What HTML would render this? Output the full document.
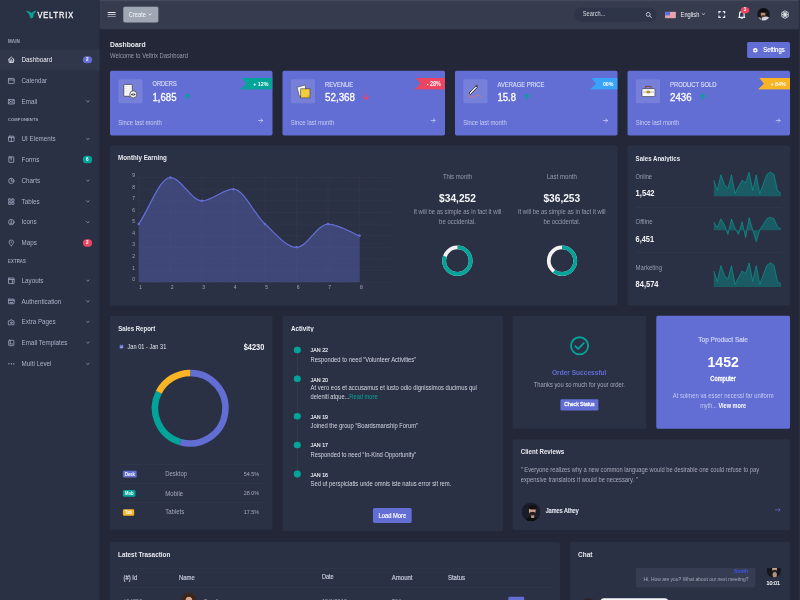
<!DOCTYPE html>
<html><head><meta charset="utf-8"><title>Veltrix Dashboard</title>
<style>
html,body{margin:0;padding:0;width:800px;height:600px;overflow:hidden;background:#232737;}
#s{position:absolute;left:0;top:0;width:1920px;height:1440px;transform:scale(0.4166667);transform-origin:0 0;overflow:hidden;font-family:"Liberation Sans",Arial,sans-serif;background:#232737;}
.a{position:absolute;box-sizing:border-box;}
.t{position:absolute;white-space:nowrap;}
.card{background:#2b3144;border-radius:4px;}
</style></head><body><div id="s">
<div class="a " style="left:0.00px;top:0.00px;width:238.80px;height:1440.00px;background:#2b3144;"></div>
<div class="a " style="left:236.64px;top:0.00px;width:2.40px;height:1440.00px;background:#272c3d;"></div>
<svg class="a" style="left:57.60px;top:19.20px;" width="38.40" height="28.80" viewBox="0 0 800 600"><path d="M100 140 Q200 120 330 235 L370 255 L410 235 Q500 130 605 135 Q560 230 470 320 L460 440 Q420 520 370 525 Q310 520 280 440 L260 330 Q150 230 100 140 Z" fill="#0aa596"/><circle cx="370" cy="410" r="24" fill="#1d6f6a"/><circle cx="430" cy="268" r="16" fill="#1d6f6a"/></svg>
<div class="t " style="left:89.76px;top:24.67px;font-size:17.75px;line-height:22.19px;color:#f4f5f8;font-weight:400;transform:scaleY(1.15);letter-spacing:2.2px;-webkit-text-stroke:0.7px #f4f5f8;">VELTRIX</div>
<div class="t " style="left:19.20px;top:93.58px;font-size:10.79px;line-height:13.49px;color:#a0a7bd;font-weight:700;transform:scaleY(1.05);letter-spacing:0.3px;">MAIN</div>
<div class="t " style="left:19.20px;top:282.38px;font-size:9.76px;line-height:12.20px;color:#a0a7bd;font-weight:700;transform:scaleY(1.05);letter-spacing:0.3px;">COMPONENTS</div>
<div class="t " style="left:19.20px;top:622.41px;font-size:10.22px;line-height:12.78px;color:#a0a7bd;font-weight:700;transform:scaleY(1.05);letter-spacing:0.3px;">EXTRAS</div>
<div class="a " style="left:0.00px;top:118.80px;width:238.80px;height:49.44px;background:#30374b;"></div>
<svg class="a" style="left:18.00px;top:134.40px;" width="18.24" height="18.24" viewBox="0 0 10 10"><path d="M1.3 5.2 L5 1.6 L8.7 5.2 M2.2 4.4 V8.6 H7.8 V4.4" fill="none" stroke="#e6e8ef" stroke-width="1.15" stroke-linecap="round" stroke-linejoin="round"/><path d="M4 8.6 V6.4 H6 V8.6" fill="none" stroke="#e6e8ef" stroke-width="1.15" stroke-linecap="round" stroke-linejoin="round"/><circle cx="5" cy="4.6" r="0.7" fill="#e6e8ef"/></svg>
<div class="t " style="left:51.84px;top:134.14px;font-size:15px;line-height:18.75px;color:#eef0f6;font-weight:400;transform:scaleY(1.15);">Dashboard</div>
<div class="a " style="left:198.72px;top:134.76px;width:21.84px;height:17.52px;background:#626ed4;border-radius:8.8px;"></div>
<div class="t " style="left:209.64px;top:136.88px;font-size:11px;line-height:13.75px;color:#fff;font-weight:700;transform:translateX(-50%) scaleY(1.1);">2</div>
<svg class="a" style="left:18.00px;top:184.56px;" width="18.24" height="18.24" viewBox="0 0 10 10"><rect x="1.2" y="1.8" width="7.6" height="6.8" rx="0.6" fill="none" stroke="#98a1bb" stroke-width="1.15" stroke-linecap="round" stroke-linejoin="round"/><path d="M1.2 3.8 H8.8" fill="none" stroke="#98a1bb" stroke-width="1.15" stroke-linecap="round" stroke-linejoin="round"/></svg>
<div class="t " style="left:51.84px;top:184.31px;font-size:15px;line-height:18.75px;color:#aab2cb;font-weight:400;transform:scaleY(1.15);">Calendar</div>
<svg class="a" style="left:18.00px;top:235.20px;" width="18.24" height="18.24" viewBox="0 0 10 10"><rect x="1.1" y="2.2" width="7.8" height="5.8" rx="0.5" fill="none" stroke="#98a1bb" stroke-width="1.15" stroke-linecap="round" stroke-linejoin="round"/><path d="M1.4 2.6 L5 5.4 L8.6 2.6 M1.4 7.6 L3.9 5 M8.6 7.6 L6.1 5" fill="none" stroke="#98a1bb" stroke-width="1.15" stroke-linecap="round" stroke-linejoin="round"/></svg>
<div class="t " style="left:51.84px;top:234.94px;font-size:15px;line-height:18.75px;color:#aab2cb;font-weight:400;transform:scaleY(1.15);">Email</div>
<svg class="a" style="left:206.40px;top:240.48px;" width="9.60" height="7.68" viewBox="0 0 10 8"><path d="M1.5 1.5 L5 5.5 L8.5 1.5" fill="none" stroke="#9aa2bb" stroke-width="1.7" stroke-linecap="round" stroke-linejoin="round"/></svg>
<svg class="a" style="left:18.00px;top:324.24px;" width="18.24" height="18.24" viewBox="0 0 10 10"><rect x="1.3" y="1.6" width="7.4" height="7" rx="1.2" fill="none" stroke="#98a1bb" stroke-width="1.15" stroke-linecap="round" stroke-linejoin="round"/><path d="M1.5 3.2 H8.5 M5 3.2 V8.5" fill="none" stroke="#98a1bb" stroke-width="1.15" stroke-linecap="round" stroke-linejoin="round"/></svg>
<div class="t " style="left:51.84px;top:323.99px;font-size:15px;line-height:18.75px;color:#aab2cb;font-weight:400;transform:scaleY(1.15);">UI Elements</div>
<svg class="a" style="left:206.40px;top:329.52px;" width="9.60" height="7.68" viewBox="0 0 10 8"><path d="M1.5 1.5 L5 5.5 L8.5 1.5" fill="none" stroke="#9aa2bb" stroke-width="1.7" stroke-linecap="round" stroke-linejoin="round"/></svg>
<svg class="a" style="left:18.00px;top:373.68px;" width="18.24" height="18.24" viewBox="0 0 10 10"><rect x="1.8" y="1.4" width="6.4" height="7.2" rx="0.4" fill="none" stroke="#98a1bb" stroke-width="1.15" stroke-linecap="round" stroke-linejoin="round"/><path d="M5 1.6 V5.6 M3.4 3 H4.2" fill="none" stroke="#98a1bb" stroke-width="1.15" stroke-linecap="round" stroke-linejoin="round"/></svg>
<div class="t " style="left:51.84px;top:373.43px;font-size:15px;line-height:18.75px;color:#aab2cb;font-weight:400;transform:scaleY(1.15);">Forms</div>
<div class="a " style="left:198.72px;top:374.04px;width:21.84px;height:17.52px;background:#02a499;border-radius:8.8px;"></div>
<div class="t " style="left:209.64px;top:376.16px;font-size:11px;line-height:13.75px;color:#fff;font-weight:700;transform:translateX(-50%) scaleY(1.1);">6</div>
<svg class="a" style="left:18.00px;top:425.04px;" width="18.24" height="18.24" viewBox="0 0 10 10"><circle cx="5" cy="5" r="3.5" fill="none" stroke="#98a1bb" stroke-width="1.15" stroke-linecap="round" stroke-linejoin="round"/><path d="M5 2.4 V5.3 H7.4" fill="none" stroke="#98a1bb" stroke-width="1.15" stroke-linecap="round" stroke-linejoin="round"/></svg>
<div class="t " style="left:51.84px;top:424.79px;font-size:15px;line-height:18.75px;color:#aab2cb;font-weight:400;transform:scaleY(1.15);">Charts</div>
<svg class="a" style="left:206.40px;top:430.32px;" width="9.60" height="7.68" viewBox="0 0 10 8"><path d="M1.5 1.5 L5 5.5 L8.5 1.5" fill="none" stroke="#9aa2bb" stroke-width="1.7" stroke-linecap="round" stroke-linejoin="round"/></svg>
<svg class="a" style="left:18.00px;top:474.72px;" width="18.24" height="18.24" viewBox="0 0 10 10"><rect x="1.4" y="1.4" width="3" height="3" rx="0.5" fill="none" stroke="#98a1bb" stroke-width="1.15" stroke-linecap="round" stroke-linejoin="round"/><rect x="5.6" y="1.4" width="3" height="3" rx="0.5" fill="none" stroke="#98a1bb" stroke-width="1.15" stroke-linecap="round" stroke-linejoin="round"/><rect x="1.4" y="5.6" width="3" height="3" rx="0.5" fill="none" stroke="#98a1bb" stroke-width="1.15" stroke-linecap="round" stroke-linejoin="round"/><rect x="5.6" y="5.6" width="3" height="3" rx="0.5" fill="none" stroke="#98a1bb" stroke-width="1.15" stroke-linecap="round" stroke-linejoin="round"/></svg>
<div class="t " style="left:51.84px;top:474.46px;font-size:15px;line-height:18.75px;color:#aab2cb;font-weight:400;transform:scaleY(1.15);">Tables</div>
<svg class="a" style="left:206.40px;top:480.00px;" width="9.60" height="7.68" viewBox="0 0 10 8"><path d="M1.5 1.5 L5 5.5 L8.5 1.5" fill="none" stroke="#9aa2bb" stroke-width="1.7" stroke-linecap="round" stroke-linejoin="round"/></svg>
<svg class="a" style="left:18.00px;top:524.40px;" width="18.24" height="18.24" viewBox="0 0 10 10"><circle cx="5" cy="5" r="3.6" fill="none" stroke="#98a1bb" stroke-width="1.15" stroke-linecap="round" stroke-linejoin="round"/><path d="M5 3 V5.6 M3.6 6.6 Q5 7.4 6.4 6.6" fill="none" stroke="#98a1bb" stroke-width="1.15" stroke-linecap="round" stroke-linejoin="round"/></svg>
<div class="t " style="left:51.84px;top:524.14px;font-size:15px;line-height:18.75px;color:#aab2cb;font-weight:400;transform:scaleY(1.15);">Icons</div>
<svg class="a" style="left:206.40px;top:529.68px;" width="9.60" height="7.68" viewBox="0 0 10 8"><path d="M1.5 1.5 L5 5.5 L8.5 1.5" fill="none" stroke="#9aa2bb" stroke-width="1.7" stroke-linecap="round" stroke-linejoin="round"/></svg>
<svg class="a" style="left:18.00px;top:573.84px;" width="18.24" height="18.24" viewBox="0 0 10 10"><path d="M5 8.8 C3 6.6 2.1 5.3 2.1 3.9 A2.9 2.9 0 0 1 7.9 3.9 C7.9 5.3 7 6.6 5 8.8 Z" fill="none" stroke="#98a1bb" stroke-width="1.15" stroke-linecap="round" stroke-linejoin="round"/><circle cx="5" cy="4" r="0.8" fill="#98a1bb"/></svg>
<div class="t " style="left:51.84px;top:573.59px;font-size:15px;line-height:18.75px;color:#aab2cb;font-weight:400;transform:scaleY(1.15);">Maps</div>
<div class="a " style="left:198.72px;top:574.20px;width:21.84px;height:17.52px;background:#ec4561;border-radius:8.8px;"></div>
<div class="t " style="left:209.64px;top:576.32px;font-size:11px;line-height:13.75px;color:#fff;font-weight:700;transform:translateX(-50%) scaleY(1.1);">2</div>
<svg class="a" style="left:18.00px;top:664.80px;" width="18.24" height="18.24" viewBox="0 0 10 10"><rect x="1.3" y="1.3" width="7.4" height="7.4" rx="0.6" fill="none" stroke="#98a1bb" stroke-width="1.15" stroke-linecap="round" stroke-linejoin="round"/><path d="M1.5 3.2 H8.5 M6.4 3.2 V8.5" fill="none" stroke="#98a1bb" stroke-width="1.15" stroke-linecap="round" stroke-linejoin="round"/></svg>
<div class="t " style="left:51.84px;top:664.54px;font-size:15px;line-height:18.75px;color:#aab2cb;font-weight:400;transform:scaleY(1.15);">Layouts</div>
<svg class="a" style="left:206.40px;top:670.08px;" width="9.60" height="7.68" viewBox="0 0 10 8"><path d="M1.5 1.5 L5 5.5 L8.5 1.5" fill="none" stroke="#9aa2bb" stroke-width="1.7" stroke-linecap="round" stroke-linejoin="round"/></svg>
<svg class="a" style="left:18.00px;top:714.24px;" width="18.24" height="18.24" viewBox="0 0 10 10"><rect x="1.2" y="2.2" width="7.6" height="6" rx="0.5" fill="none" stroke="#98a1bb" stroke-width="1.15" stroke-linecap="round" stroke-linejoin="round"/><path d="M1.4 3.9 H8.6 M3.3 6.6 H6.7" fill="none" stroke="#98a1bb" stroke-width="1.15" stroke-linecap="round" stroke-linejoin="round"/></svg>
<div class="t " style="left:51.84px;top:713.98px;font-size:15px;line-height:18.75px;color:#aab2cb;font-weight:400;transform:scaleY(1.15);">Authentication</div>
<svg class="a" style="left:206.40px;top:719.52px;" width="9.60" height="7.68" viewBox="0 0 10 8"><path d="M1.5 1.5 L5 5.5 L8.5 1.5" fill="none" stroke="#9aa2bb" stroke-width="1.7" stroke-linecap="round" stroke-linejoin="round"/></svg>
<svg class="a" style="left:18.00px;top:763.92px;" width="18.24" height="18.24" viewBox="0 0 10 10"><path d="M1.5 3.4 H3.2 L4 2 H6 L6.8 3.4 H8.5 V8.6 H1.5 Z" fill="none" stroke="#98a1bb" stroke-width="1.15" stroke-linecap="round" stroke-linejoin="round"/><circle cx="5" cy="5.8" r="1.1" fill="none" stroke="#98a1bb" stroke-width="1.15" stroke-linecap="round" stroke-linejoin="round"/></svg>
<div class="t " style="left:51.84px;top:763.67px;font-size:15px;line-height:18.75px;color:#aab2cb;font-weight:400;transform:scaleY(1.15);">Extra Pages</div>
<svg class="a" style="left:206.40px;top:769.20px;" width="9.60" height="7.68" viewBox="0 0 10 8"><path d="M1.5 1.5 L5 5.5 L8.5 1.5" fill="none" stroke="#9aa2bb" stroke-width="1.7" stroke-linecap="round" stroke-linejoin="round"/></svg>
<svg class="a" style="left:18.00px;top:814.08px;" width="18.24" height="18.24" viewBox="0 0 10 10"><rect x="1.6" y="1.4" width="6.8" height="7.2" rx="0.8" fill="none" stroke="#98a1bb" stroke-width="1.15" stroke-linecap="round" stroke-linejoin="round"/><path d="M3.6 1.6 V6 M3.4 6.3 H6.6" fill="none" stroke="#98a1bb" stroke-width="1.15" stroke-linecap="round" stroke-linejoin="round"/></svg>
<div class="t " style="left:51.84px;top:813.82px;font-size:15px;line-height:18.75px;color:#aab2cb;font-weight:400;transform:scaleY(1.15);">Email Templates</div>
<svg class="a" style="left:206.40px;top:819.36px;" width="9.60" height="7.68" viewBox="0 0 10 8"><path d="M1.5 1.5 L5 5.5 L8.5 1.5" fill="none" stroke="#9aa2bb" stroke-width="1.7" stroke-linecap="round" stroke-linejoin="round"/></svg>
<svg class="a" style="left:18.00px;top:864.48px;" width="18.24" height="18.24" viewBox="0 0 10 10"><circle cx="1.8" cy="5" r="0.9" fill="#98a1bb"/><circle cx="5" cy="5" r="0.9" fill="#98a1bb"/><circle cx="8.2" cy="5" r="0.9" fill="#98a1bb"/></svg>
<div class="t " style="left:51.84px;top:864.23px;font-size:15px;line-height:18.75px;color:#aab2cb;font-weight:400;transform:scaleY(1.15);">Multi Level</div>
<svg class="a" style="left:206.40px;top:869.76px;" width="9.60" height="7.68" viewBox="0 0 10 8"><path d="M1.5 1.5 L5 5.5 L8.5 1.5" fill="none" stroke="#9aa2bb" stroke-width="1.7" stroke-linecap="round" stroke-linejoin="round"/></svg>
<div class="a " style="left:238.80px;top:0.00px;width:1681.20px;height:70.08px;background:#373b4e;"></div>
<div class="a " style="left:238.80px;top:0.00px;width:1681.20px;height:2.88px;background:#45495b;"></div>
<div class="a " style="left:258.24px;top:28.92px;width:20.16px;height:1.68px;background:#e8eaf0;border-radius:1px;"></div>
<div class="a " style="left:258.24px;top:33.84px;width:20.16px;height:1.68px;background:#e8eaf0;border-radius:1px;"></div>
<div class="a " style="left:258.24px;top:38.76px;width:20.16px;height:1.68px;background:#e8eaf0;border-radius:1px;"></div>
<div class="a " style="left:295.68px;top:16.32px;width:84.00px;height:37.68px;background:#9ea7b3;border:1px solid #aab2bd;border-radius:4px;"></div>
<div class="t " style="left:309.12px;top:26.69px;font-size:13.75px;line-height:17.19px;color:#f6f7fa;font-weight:400;transform:scaleY(1.15);">Create</div>
<svg class="a" style="left:356.40px;top:31.78px;" width="8.16" height="6.53" viewBox="0 0 10 8"><path d="M1.5 1.5 L5 5.5 L8.5 1.5" fill="none" stroke="#f3f4f7" stroke-width="2.4" stroke-linecap="round" stroke-linejoin="round"/></svg>
<div class="a " style="left:1378.08px;top:17.76px;width:198.24px;height:35.52px;background:#2f3548;border-radius:18px;"></div>
<div class="t " style="left:1398.72px;top:27.09px;font-size:13.49px;line-height:16.86px;color:#d9dce6;font-weight:400;transform:scaleY(1.15);">Search...</div>
<svg class="a" style="left:1548.96px;top:27.84px;" width="15.84" height="15.84" viewBox="0 0 10 10"><circle cx="4.2" cy="4.2" r="3" fill="none" stroke="#c9ccd6" stroke-width="1.4"/><path d="M6.4 6.4 L9 9" stroke="#c9ccd6" stroke-width="1.5" stroke-linecap="round"/></svg>
<svg class="a" style="left:1596.00px;top:27.84px;" width="26.40" height="16.32" viewBox="0 0 22 14"><rect width="22" height="14" fill="#f2f2f6"/><rect y="0" width="22" height="1.1" fill="#e0576d"/><rect y="2" width="22" height="1.1" fill="#e0576d"/><rect y="4" width="22" height="1.1" fill="#e0576d"/><rect y="6" width="22" height="1.1" fill="#e0576d"/><rect y="8" width="22" height="1.1" fill="#e0576d"/><rect y="10" width="22" height="1.1" fill="#e0576d"/><rect y="12" width="22" height="1.1" fill="#e0576d"/><rect width="10" height="7.6" fill="#5b6fd6"/></svg>
<div class="t " style="left:1633.44px;top:26.92px;font-size:13.76px;line-height:17.20px;color:#eceef3;font-weight:400;transform:scaleY(1.15);">English</div>
<svg class="a" style="left:1684.32px;top:31.34px;" width="8.64" height="6.91" viewBox="0 0 10 8"><path d="M1.5 1.5 L5 5.5 L8.5 1.5" fill="none" stroke="#d5d8e0" stroke-width="2.0" stroke-linecap="round" stroke-linejoin="round"/></svg>
<svg class="a" style="left:1723.20px;top:26.40px;" width="18.72" height="17.28" viewBox="0 0 10 10"><path d="M1 3.6 V1 H3.6 M6.4 1 H9 V3.6 M9 6.4 V9 H6.4 M3.6 9 H1 V6.4" fill="none" stroke="#eceef3" stroke-width="1.6"/></svg>
<svg class="a" style="left:1770.72px;top:23.52px;" width="18.72" height="22.08" viewBox="0 0 10 12"><path d="M2 8.6 V5.2 A3 3 0 0 1 8 5.2 V8.6 L9 9.6 H1 Z" fill="none" stroke="#eceef3" stroke-width="1.5" stroke-linejoin="round"/><path d="M4 10.6 A1 1 0 0 0 6 10.6" fill="none" stroke="#eceef3" stroke-width="1.2"/></svg>
<div class="a " style="left:1778.40px;top:16.56px;width:19.20px;height:15.12px;background:#ec4561;border-radius:50%;"></div>
<div class="t " style="left:1788.00px;top:17.99px;font-size:10px;line-height:12.50px;color:#fff;font-weight:700;transform:translateX(-50%) scaleY(1.15);">3</div>
<svg class="a" style="left:1817.04px;top:19.44px;" width="30.72" height="30.72" viewBox="0 0 20 20"><defs><clipPath id="ca"><circle cx="10" cy="10" r="10"/></clipPath><filter id="fb" x="-20%" y="-20%" width="140%" height="140%"><feGaussianBlur stdDeviation="0.5"/></filter></defs><g clip-path="url(#ca)"><rect width="20" height="20" fill="#17171b"/><g filter="url(#fb)"><ellipse cx="13.5" cy="18" rx="6.5" ry="4.5" fill="#d6d6de"/><ellipse cx="3.5" cy="17.5" rx="3.5" ry="3" fill="#8c8c96"/><ellipse cx="9.4" cy="9.6" rx="3.7" ry="4.6" fill="#b98a70"/><ellipse cx="9.6" cy="12.8" rx="2.8" ry="1.6" fill="#5b3e32"/><ellipse cx="9.6" cy="4.8" rx="5.2" ry="2.8" fill="#0a0a0a"/></g></g></svg>
<svg class="a" style="left:1872.96px;top:24.00px;" width="22.08" height="22.08" viewBox="0 0 20 20"><circle cx="10.00" cy="5.40" r="3.6" fill="none" stroke="#e8eaf0" stroke-width="1.5"/><circle cx="13.98" cy="7.70" r="3.6" fill="none" stroke="#e8eaf0" stroke-width="1.5"/><circle cx="13.98" cy="12.30" r="3.6" fill="none" stroke="#e8eaf0" stroke-width="1.5"/><circle cx="10.00" cy="14.60" r="3.6" fill="none" stroke="#e8eaf0" stroke-width="1.5"/><circle cx="6.02" cy="12.30" r="3.6" fill="none" stroke="#e8eaf0" stroke-width="1.5"/><circle cx="6.02" cy="7.70" r="3.6" fill="none" stroke="#e8eaf0" stroke-width="1.5"/><circle cx="10" cy="10" r="2.6" fill="none" stroke="#e8eaf0" stroke-width="1.5"/></svg>
<div class="a " style="left:1916.88px;top:0.00px;width:3.12px;height:1440.00px;background:#2b2f3f;"></div>
<div class="t " style="left:264.00px;top:96.82px;font-size:16.36px;line-height:20.45px;color:#e8eaf1;font-weight:700;">Dashboard</div>
<div class="t " style="left:264.00px;top:125.20px;font-size:13.95px;line-height:17.44px;color:#969caf;font-weight:400;transform:scaleY(1.15);">Welcome to Veltrix Dashboard</div>
<div class="a " style="left:1793.04px;top:100.80px;width:102.72px;height:38.16px;background:#626ed4;border-radius:4px;"></div>
<svg class="a" style="left:1806.24px;top:113.52px;" width="13.44" height="13.44" viewBox="0 0 10 10"><path d="M5 0.6 L8.8 2.8 V7.2 L5 9.4 L1.2 7.2 V2.8 Z" fill="#fff"/><circle cx="5" cy="5" r="1.6" fill="#626ed4"/></svg>
<div class="t " style="left:1831.68px;top:111.31px;font-size:14.28px;line-height:17.85px;color:#fff;font-weight:400;transform:scaleY(1.15);-webkit-text-stroke:0.40px #fff;">Settings</div>
<div class="a " style="left:264.00px;top:169.68px;width:390.00px;height:155.52px;background:#626ed4;border-radius:4px;"></div>
<div class="a " style="left:284.40px;top:190.08px;width:58.08px;height:58.08px;background:rgba(255,255,255,0.13);border-radius:4px;"></div>
<svg class="a" style="left:283.20px;top:189.60px;" width="60.00" height="60.00" viewBox="0 0 600 600"><rect x="140" y="125" width="205" height="285" rx="18" fill="#f8f8f8" stroke="#2e2e36" stroke-width="16"/><path d="M190 175 H320 M190 230 H320 M190 285 H300 M190 340 H260" stroke="#d7dbe2" stroke-width="10"/><rect x="162" y="160" width="16" height="22" fill="#8fd08f"/><rect x="162" y="218" width="16" height="22" fill="#f27f70"/><rect x="162" y="285" width="16" height="22" fill="#8fd08f"/><circle cx="368" cy="365" r="85" fill="#f4f4f4" stroke="#2e2e36" stroke-width="16"/><path d="M305 368 Q368 320 430 368 Q368 416 305 368 Z" fill="#2e2e36"/><circle cx="368" cy="368" r="14" fill="#f4f4f4"/></svg>
<div class="t " style="left:366.00px;top:195.28px;font-size:13.57px;line-height:16.96px;color:#d8dcf7;font-weight:400;transform:scaleY(1.15);-webkit-text-stroke:0.38px #d8dcf7;">ORDERS</div>
<div class="t " style="left:366.00px;top:220.33px;font-size:23.02px;line-height:28.77px;color:#ffffff;font-weight:400;transform:scaleY(1.1);-webkit-text-stroke:0.64px #ffffff;">1,685</div>
<svg class="a" style="left:441.60px;top:224.40px;" width="16.80" height="16.80" viewBox="0 0 10 10"><path d="M5 9.3 V1.4 M1.2 5 L5 1.2 L8.8 5" fill="none" stroke="#02a499" stroke-width="1.6" stroke-linecap="round" stroke-linejoin="round"/></svg>
<svg class="a" style="left:576.00px;top:187.20px;" width="78.00" height="28.20" viewBox="0 0 32.5 11.75"><path d="M1.75 0 H32.5 V11.75 H0 L6.5 5.9 Z" fill="#02a499"/></svg>
<div class="t " style="left:644.16px;top:193.61px;font-size:12.78px;line-height:15.97px;color:#ffffff;font-weight:700;transform:translateX(-100%) scaleY(1.15);">+ 12%</div>
<div class="t " style="left:283.92px;top:285.89px;font-size:14.12px;line-height:17.65px;color:#c9cdf2;font-weight:400;transform:scaleY(1.15);">Since last month</div>
<svg class="a" style="left:618.72px;top:283.20px;" width="12.96" height="12.48" viewBox="0 0 10 10"><path d="M1 5 H9 M5.2 1.3 L8.9 5 L5.2 8.7" fill="none" stroke="#d5d9f6" stroke-width="1.3" stroke-linecap="round" stroke-linejoin="round"/></svg>
<div class="a " style="left:678.00px;top:169.68px;width:390.00px;height:155.52px;background:#626ed4;border-radius:4px;"></div>
<div class="a " style="left:698.40px;top:190.08px;width:58.08px;height:58.08px;background:rgba(255,255,255,0.13);border-radius:4px;"></div>
<svg class="a" style="left:697.20px;top:189.60px;" width="60.00" height="60.00" viewBox="0 0 600 600"><path d="M160 195 L355 140 L380 370 L215 410 Z" fill="#fbfbfb" stroke="#3a3a44" stroke-width="14" stroke-linejoin="round"/><rect x="248" y="232" width="222" height="218" fill="#f3cd3e" stroke="#34343c" stroke-width="14"/><path d="M410 450 L470 390 L410 390 Z" fill="#c9a21f"/></svg>
<div class="t " style="left:780.00px;top:195.04px;font-size:13.95px;line-height:17.44px;color:#d8dcf7;font-weight:400;transform:scaleY(1.15);-webkit-text-stroke:0.39px #d8dcf7;">REVENUE</div>
<div class="t " style="left:780.00px;top:220.01px;font-size:23.54px;line-height:29.42px;color:#ffffff;font-weight:400;transform:scaleY(1.1);-webkit-text-stroke:0.66px #ffffff;">52,368</div>
<svg class="a" style="left:870.00px;top:224.40px;" width="16.80" height="16.80" viewBox="0 0 10 10"><path d="M5 0.7 V8.6 M1.2 5 L5 8.8 L8.8 5" fill="none" stroke="#ec4561" stroke-width="1.6" stroke-linecap="round" stroke-linejoin="round"/></svg>
<svg class="a" style="left:994.20px;top:187.20px;" width="73.80" height="28.20" viewBox="0 0 30.75 11.75"><path d="M1.75 0 H30.75 V11.75 H0 L6.5 5.9 Z" fill="#ec4561"/></svg>
<div class="t " style="left:1058.16px;top:193.42px;font-size:13.09px;line-height:16.36px;color:#ffffff;font-weight:700;transform:translateX(-100%) scaleY(1.15);">- 28%</div>
<div class="t " style="left:697.92px;top:285.89px;font-size:14.12px;line-height:17.65px;color:#c9cdf2;font-weight:400;transform:scaleY(1.15);">Since last month</div>
<svg class="a" style="left:1032.72px;top:283.20px;" width="12.96" height="12.48" viewBox="0 0 10 10"><path d="M1 5 H9 M5.2 1.3 L8.9 5 L5.2 8.7" fill="none" stroke="#d5d9f6" stroke-width="1.3" stroke-linecap="round" stroke-linejoin="round"/></svg>
<div class="a " style="left:1092.00px;top:169.68px;width:390.00px;height:155.52px;background:#626ed4;border-radius:4px;"></div>
<div class="a " style="left:1112.40px;top:190.08px;width:58.08px;height:58.08px;background:rgba(255,255,255,0.13);border-radius:4px;"></div>
<svg class="a" style="left:1111.20px;top:189.60px;" width="60.00" height="60.00" viewBox="0 0 600 600"><path d="M145 335 L310 165 L345 200 L180 370 Z" fill="#dfe3ea" stroke="#2d2d33" stroke-width="22" stroke-linejoin="round"/><path d="M200 300 L290 210" stroke="#ffffff" stroke-width="26" stroke-dasharray="20 12"/><path d="M300 160 L330 130 L365 165 L335 195 Z" fill="#4a4a55"/><path d="M140 365 Q120 450 210 440 Q280 420 330 392 Q390 370 455 430" fill="none" stroke="#e9746e" stroke-width="16" stroke-linecap="round"/></svg>
<div class="t " style="left:1194.00px;top:195.07px;font-size:13.91px;line-height:17.39px;color:#d8dcf7;font-weight:400;transform:scaleY(1.15);-webkit-text-stroke:0.39px #d8dcf7;">AVERAGE PRICE</div>
<div class="t " style="left:1194.00px;top:220.46px;font-size:22.81px;line-height:28.51px;color:#ffffff;font-weight:400;transform:scaleY(1.1);-webkit-text-stroke:0.64px #ffffff;">15.8</div>
<svg class="a" style="left:1257.00px;top:224.40px;" width="16.80" height="16.80" viewBox="0 0 10 10"><path d="M5 9.3 V1.4 M1.2 5 L5 1.2 L8.8 5" fill="none" stroke="#02a499" stroke-width="1.6" stroke-linecap="round" stroke-linejoin="round"/></svg>
<svg class="a" style="left:1414.80px;top:187.20px;" width="67.20" height="28.20" viewBox="0 0 28.0 11.75"><path d="M1.75 0 H28.0 V11.75 H0 L6.5 5.9 Z" fill="#38a4f8"/></svg>
<div class="t " style="left:1472.16px;top:193.74px;font-size:12.58px;line-height:15.72px;color:#ffffff;font-weight:700;transform:translateX(-100%) scaleY(1.15);">00%</div>
<div class="t " style="left:1111.92px;top:285.89px;font-size:14.12px;line-height:17.65px;color:#c9cdf2;font-weight:400;transform:scaleY(1.15);">Since last month</div>
<svg class="a" style="left:1446.72px;top:283.20px;" width="12.96" height="12.48" viewBox="0 0 10 10"><path d="M1 5 H9 M5.2 1.3 L8.9 5 L5.2 8.7" fill="none" stroke="#d5d9f6" stroke-width="1.3" stroke-linecap="round" stroke-linejoin="round"/></svg>
<div class="a " style="left:1506.00px;top:169.68px;width:390.00px;height:155.52px;background:#626ed4;border-radius:4px;"></div>
<div class="a " style="left:1526.40px;top:190.08px;width:58.08px;height:58.08px;background:rgba(255,255,255,0.13);border-radius:4px;"></div>
<svg class="a" style="left:1525.20px;top:189.60px;" width="60.00" height="60.00" viewBox="0 0 600 600"><path d="M245 228 V172 H375 V228" fill="none" stroke="#8b3a2b" stroke-width="22"/><rect x="158" y="228" width="310" height="190" rx="12" fill="#fbfbfb" stroke="#2f2f38" stroke-width="14"/><rect x="165" y="292" width="296" height="38" fill="#cfcfd2"/><ellipse cx="310" cy="310" rx="44" ry="30" fill="#b8941c" stroke="#7a6410" stroke-width="6"/></svg>
<div class="t " style="left:1608.00px;top:194.94px;font-size:14.11px;line-height:17.64px;color:#d8dcf7;font-weight:400;transform:scaleY(1.15);-webkit-text-stroke:0.40px #d8dcf7;">PRODUCT SOLD</div>
<div class="t " style="left:1608.00px;top:220.16px;font-size:23.3px;line-height:29.12px;color:#ffffff;font-weight:400;transform:scaleY(1.1);-webkit-text-stroke:0.65px #ffffff;">2436</div>
<svg class="a" style="left:1678.56px;top:224.40px;" width="16.80" height="16.80" viewBox="0 0 10 10"><path d="M5 9.3 V1.4 M1.2 5 L5 1.2 L8.8 5" fill="none" stroke="#02a499" stroke-width="1.6" stroke-linecap="round" stroke-linejoin="round"/></svg>
<svg class="a" style="left:1818.00px;top:187.20px;" width="78.00" height="28.20" viewBox="0 0 32.5 11.75"><path d="M1.75 0 H32.5 V11.75 H0 L6.5 5.9 Z" fill="#f8b425"/></svg>
<div class="t " style="left:1886.16px;top:193.48px;font-size:12.99px;line-height:16.24px;color:#ffffff;font-weight:700;transform:translateX(-100%) scaleY(1.15);">+ 84%</div>
<div class="t " style="left:1525.92px;top:285.89px;font-size:14.12px;line-height:17.65px;color:#c9cdf2;font-weight:400;transform:scaleY(1.15);">Since last month</div>
<svg class="a" style="left:1860.72px;top:283.20px;" width="12.96" height="12.48" viewBox="0 0 10 10"><path d="M1 5 H9 M5.2 1.3 L8.9 5 L5.2 8.7" fill="none" stroke="#d5d9f6" stroke-width="1.3" stroke-linecap="round" stroke-linejoin="round"/></svg>
<div class="a card" style="left:264.00px;top:349.20px;width:1218.00px;height:383.52px;"></div>
<div class="t " style="left:283.44px;top:369.38px;font-size:14.95px;line-height:18.69px;color:#e8eaf1;font-weight:700;transform:scaleY(1.08);">Monthly Earning</div>
<svg class="a" style="left:0.00px;top:0.00px;pointer-events:none;" width="1920.00" height="1440.00" viewBox="0 0 800 600"><g stroke="rgba(255,255,255,0.13)" stroke-width="0.42" stroke-dasharray="0.85 0.85"><line x1="138.8" y1="282.20" x2="391.12" y2="282.20"/><line x1="138.8" y1="270.57" x2="391.12" y2="270.57"/><line x1="138.8" y1="258.94" x2="391.12" y2="258.94"/><line x1="138.8" y1="247.31" x2="391.12" y2="247.31"/><line x1="138.8" y1="235.68" x2="391.12" y2="235.68"/><line x1="138.8" y1="224.05" x2="391.12" y2="224.05"/><line x1="138.8" y1="212.42" x2="391.12" y2="212.42"/><line x1="138.8" y1="200.79" x2="391.12" y2="200.79"/><line x1="138.8" y1="189.16" x2="391.12" y2="189.16"/><line x1="138.8" y1="177.53" x2="391.12" y2="177.53"/><line x1="138.80" y1="177.53" x2="138.80" y2="282.20"/><line x1="170.34" y1="177.53" x2="170.34" y2="282.20"/><line x1="201.88" y1="177.53" x2="201.88" y2="282.20"/><line x1="233.42" y1="177.53" x2="233.42" y2="282.20"/><line x1="264.96" y1="177.53" x2="264.96" y2="282.20"/><line x1="296.50" y1="177.53" x2="296.50" y2="282.20"/><line x1="328.04" y1="177.53" x2="328.04" y2="282.20"/><line x1="359.58" y1="177.53" x2="359.58" y2="282.20"/></g><path d="M138.80 224.05 C149.31 208.54 159.83 177.53 170.34 177.53 C180.85 177.53 191.37 200.79 201.88 200.79 C212.39 200.79 222.91 189.16 233.42 189.16 C243.93 189.16 254.45 214.75 264.96 224.05 C275.47 233.35 285.99 247.31 296.50 247.31 C307.01 247.31 317.53 224.05 328.04 224.05 C338.55 224.05 349.07 231.80 359.58 235.68 L359.58 282.20 L138.80 282.20 Z" fill="#626ed4" fill-opacity="0.36"/><path d="M138.80 224.05 C149.31 208.54 159.83 177.53 170.34 177.53 C180.85 177.53 191.37 200.79 201.88 200.79 C212.39 200.79 222.91 189.16 233.42 189.16 C243.93 189.16 254.45 214.75 264.96 224.05 C275.47 233.35 285.99 247.31 296.50 247.31 C307.01 247.31 317.53 224.05 328.04 224.05 C338.55 224.05 349.07 231.80 359.58 235.68" fill="none" stroke="#626ed4" stroke-width="1.25"/><circle cx="138.80" cy="224.05" r="1.25" fill="#626ed4"/><circle cx="170.34" cy="177.53" r="1.25" fill="#626ed4"/><circle cx="201.88" cy="200.79" r="1.25" fill="#626ed4"/><circle cx="233.42" cy="189.16" r="1.25" fill="#626ed4"/><circle cx="264.96" cy="224.05" r="1.25" fill="#626ed4"/><circle cx="296.50" cy="247.31" r="1.25" fill="#626ed4"/><circle cx="328.04" cy="224.05" r="1.25" fill="#626ed4"/><circle cx="359.58" cy="235.68" r="1.25" fill="#626ed4"/></svg>
<div class="t " style="left:324.00px;top:664.02px;font-size:12px;line-height:15.00px;color:#a1a8bc;font-weight:400;transform:translateX(-100%) scaleY(1.15);">0</div>
<div class="t " style="left:324.00px;top:636.11px;font-size:12px;line-height:15.00px;color:#a1a8bc;font-weight:400;transform:translateX(-100%) scaleY(1.15);">1</div>
<div class="t " style="left:324.00px;top:608.20px;font-size:12px;line-height:15.00px;color:#a1a8bc;font-weight:400;transform:translateX(-100%) scaleY(1.15);">2</div>
<div class="t " style="left:324.00px;top:580.28px;font-size:12px;line-height:15.00px;color:#a1a8bc;font-weight:400;transform:translateX(-100%) scaleY(1.15);">3</div>
<div class="t " style="left:324.00px;top:552.37px;font-size:12px;line-height:15.00px;color:#a1a8bc;font-weight:400;transform:translateX(-100%) scaleY(1.15);">4</div>
<div class="t " style="left:324.00px;top:524.46px;font-size:12px;line-height:15.00px;color:#a1a8bc;font-weight:400;transform:translateX(-100%) scaleY(1.15);">5</div>
<div class="t " style="left:324.00px;top:496.55px;font-size:12px;line-height:15.00px;color:#a1a8bc;font-weight:400;transform:translateX(-100%) scaleY(1.15);">6</div>
<div class="t " style="left:324.00px;top:468.64px;font-size:12px;line-height:15.00px;color:#a1a8bc;font-weight:400;transform:translateX(-100%) scaleY(1.15);">7</div>
<div class="t " style="left:324.00px;top:440.72px;font-size:12px;line-height:15.00px;color:#a1a8bc;font-weight:400;transform:translateX(-100%) scaleY(1.15);">8</div>
<div class="t " style="left:324.00px;top:412.81px;font-size:12px;line-height:15.00px;color:#a1a8bc;font-weight:400;transform:translateX(-100%) scaleY(1.15);">9</div>
<div class="t " style="left:333.84px;top:681.30px;font-size:12px;line-height:15.00px;color:#a1a8bc;font-weight:400;transform:scaleY(1.15);">1</div>
<div class="t " style="left:409.54px;top:681.30px;font-size:12px;line-height:15.00px;color:#a1a8bc;font-weight:400;transform:scaleY(1.15);">2</div>
<div class="t " style="left:485.23px;top:681.30px;font-size:12px;line-height:15.00px;color:#a1a8bc;font-weight:400;transform:scaleY(1.15);">3</div>
<div class="t " style="left:560.93px;top:681.30px;font-size:12px;line-height:15.00px;color:#a1a8bc;font-weight:400;transform:scaleY(1.15);">4</div>
<div class="t " style="left:636.62px;top:681.30px;font-size:12px;line-height:15.00px;color:#a1a8bc;font-weight:400;transform:scaleY(1.15);">5</div>
<div class="t " style="left:712.32px;top:681.30px;font-size:12px;line-height:15.00px;color:#a1a8bc;font-weight:400;transform:scaleY(1.15);">6</div>
<div class="t " style="left:788.02px;top:681.30px;font-size:12px;line-height:15.00px;color:#a1a8bc;font-weight:400;transform:scaleY(1.15);">7</div>
<div class="t " style="left:863.71px;top:681.30px;font-size:12px;line-height:15.00px;color:#a1a8bc;font-weight:400;transform:scaleY(1.15);">8</div>
<div class="t " style="left:1098.00px;top:414.50px;font-size:14.17px;line-height:17.71px;color:#969caf;font-weight:400;transform:translateX(-50%) scaleY(1.15);">This month</div>
<div class="t " style="left:1098.00px;top:459.93px;font-size:24.43px;line-height:30.54px;color:#f4f5f8;font-weight:700;transform:translateX(-50%) scaleY(1.15);">$34,252</div>
<div class="t " style="left:1098.00px;top:501.12px;font-size:14.2px;line-height:17.75px;color:#969caf;font-weight:400;transform:translateX(-50%) scaleY(1.15);">It will be as simple as in fact it will</div>
<div class="t " style="left:1098.00px;top:523.14px;font-size:14.31px;line-height:17.89px;color:#969caf;font-weight:400;transform:translateX(-50%) scaleY(1.15);">be occidental.</div>
<svg class="a" style="left:1057.20px;top:585.24px;" width="81.60" height="81.60" viewBox="0 0 34 34"><circle cx="17" cy="17" r="13.25" fill="none" stroke="#f2f2f2" stroke-width="3.75"/><circle cx="17" cy="17" r="13.25" fill="none" stroke="#02a499" stroke-width="3.75" stroke-dasharray="66.602 83.252" transform="rotate(-90 17 17)"/></svg>
<div class="t " style="left:1348.32px;top:414.17px;font-size:14.7px;line-height:18.38px;color:#969caf;font-weight:400;transform:translateX(-50%) scaleY(1.15);">Last month</div>
<div class="t " style="left:1348.32px;top:459.93px;font-size:24.43px;line-height:30.54px;color:#f4f5f8;font-weight:700;transform:translateX(-50%) scaleY(1.15);">$36,253</div>
<div class="t " style="left:1348.32px;top:501.12px;font-size:14.2px;line-height:17.75px;color:#969caf;font-weight:400;transform:translateX(-50%) scaleY(1.15);">It will be as simple as in fact it will</div>
<div class="t " style="left:1348.32px;top:523.14px;font-size:14.31px;line-height:17.89px;color:#969caf;font-weight:400;transform:translateX(-50%) scaleY(1.15);">be occidental.</div>
<svg class="a" style="left:1307.52px;top:585.24px;" width="81.60" height="81.60" viewBox="0 0 34 34"><circle cx="17" cy="17" r="13.25" fill="none" stroke="#f2f2f2" stroke-width="3.75"/><circle cx="17" cy="17" r="13.25" fill="none" stroke="#02a499" stroke-width="3.75" stroke-dasharray="49.951 83.252" transform="rotate(-90 17 17)"/></svg>
<div class="a card" style="left:1506.00px;top:349.20px;width:390.00px;height:383.52px;"></div>
<div class="t " style="left:1525.44px;top:371.02px;font-size:14.63px;line-height:18.29px;color:#e8eaf1;font-weight:700;transform:scaleY(1.08);">Sales Analytics</div>
<div class="a " style="left:1525.44px;top:496.80px;width:350.40px;height:1.08px;background:rgba(255,255,255,0.07);"></div>
<div class="a " style="left:1525.44px;top:604.56px;width:350.40px;height:1.08px;background:rgba(255,255,255,0.07);"></div>
<svg class="a" style="left:0.00px;top:0.00px;pointer-events:none;" width="1920.00" height="1440.00" viewBox="0 0 800 600"><path d="M713.80 180.20 L717.34 190.50 L720.87 174.80 L724.41 184.50 L727.95 188.50 L731.49 174.80 L735.02 193.50 L738.56 186.80 L742.10 180.20 L745.63 182.80 L749.17 172.20 L752.71 190.50 L756.24 174.80 L759.78 193.50 L763.32 184.00 L766.86 174.50 L770.39 172.00 L773.93 174.50 L777.47 190.50 L781.00 193.50 L781.00 196.20 L713.80 196.20 Z" fill="#02a499" fill-opacity="0.38"/><path d="M713.80 180.20 L717.34 190.50 L720.87 174.80 L724.41 184.50 L727.95 188.50 L731.49 174.80 L735.02 193.50 L738.56 186.80 L742.10 180.20 L745.63 182.80 L749.17 172.20 L752.71 190.50 L756.24 174.80 L759.78 193.50 L763.32 184.00 L766.86 174.50 L770.39 172.00 L773.93 174.50 L777.47 190.50 L781.00 193.50" fill="none" stroke="#02a499" stroke-width="0.6" stroke-linejoin="round"/><path d="M713.80 222.00 L717.34 227.50 L720.87 218.80 L724.41 225.00 L727.95 234.50 L731.49 219.00 L735.02 228.50 L738.56 234.50 L742.10 221.80 L745.63 237.50 L749.17 217.50 L752.71 230.00 L756.24 241.80 L759.78 229.50 L763.32 224.50 L766.86 218.80 L770.39 217.20 L773.93 218.80 L777.47 227.00 L781.00 229.20 L781.00 230.20 L713.80 230.20 Z" fill="#02a499" fill-opacity="0.38"/><path d="M713.80 222.00 L717.34 227.50 L720.87 218.80 L724.41 225.00 L727.95 234.50 L731.49 219.00 L735.02 228.50 L738.56 234.50 L742.10 221.80 L745.63 237.50 L749.17 217.50 L752.71 230.00 L756.24 241.80 L759.78 229.50 L763.32 224.50 L766.86 218.80 L770.39 217.20 L773.93 218.80 L777.47 227.00 L781.00 229.20" fill="none" stroke="#02a499" stroke-width="0.6" stroke-linejoin="round"/><path d="M713.80 271.00 L717.34 281.30 L720.87 265.60 L724.41 275.30 L727.95 279.30 L731.49 265.60 L735.02 284.30 L738.56 277.60 L742.10 271.00 L745.63 273.60 L749.17 263.00 L752.71 281.30 L756.24 265.60 L759.78 284.30 L763.32 274.80 L766.86 265.30 L770.39 262.80 L773.93 265.30 L777.47 281.30 L781.00 284.30 L781.00 287.00 L713.80 287.00 Z" fill="#02a499" fill-opacity="0.38"/><path d="M713.80 271.00 L717.34 281.30 L720.87 265.60 L724.41 275.30 L727.95 279.30 L731.49 265.60 L735.02 284.30 L738.56 277.60 L742.10 271.00 L745.63 273.60 L749.17 263.00 L752.71 281.30 L756.24 265.60 L759.78 284.30 L763.32 274.80 L766.86 265.30 L770.39 262.80 L773.93 265.30 L777.47 281.30 L781.00 284.30" fill="none" stroke="#02a499" stroke-width="0.6" stroke-linejoin="round"/></svg>
<div class="t " style="left:1525.44px;top:414.61px;font-size:13.61px;line-height:17.01px;color:#969caf;font-weight:400;transform:scaleY(1.15);">Online</div>
<div class="t " style="left:1525.44px;top:451.81px;font-size:18.22px;line-height:22.77px;color:#f4f5f8;font-weight:700;transform:scaleY(1.15);">1,542</div>
<div class="t " style="left:1525.44px;top:523.68px;font-size:14.2px;line-height:17.75px;color:#969caf;font-weight:400;transform:scaleY(1.15);">Offline</div>
<div class="t " style="left:1525.44px;top:561.61px;font-size:17.65px;line-height:22.06px;color:#f4f5f8;font-weight:700;transform:scaleY(1.15);">6,451</div>
<div class="t " style="left:1525.44px;top:632.50px;font-size:14.43px;line-height:18.04px;color:#969caf;font-weight:400;transform:scaleY(1.15);">Marketing</div>
<div class="t " style="left:1525.44px;top:670.37px;font-size:17.97px;line-height:22.46px;color:#f4f5f8;font-weight:700;transform:scaleY(1.15);">84,574</div>
<div class="a card" style="left:264.00px;top:757.80px;width:390.00px;height:513.12px;"></div>
<div class="t " style="left:283.68px;top:779.54px;font-size:14.56px;line-height:18.20px;color:#e8eaf1;font-weight:700;transform:scaleY(1.08);">Sales Report</div>
<svg class="a" style="left:285.84px;top:826.08px;" width="11.04" height="11.52" viewBox="0 0 10 10"><rect x="0.8" y="1.6" width="8.4" height="7.8" rx="1" fill="#626ed4"/><rect x="2.2" y="4.6" width="5.6" height="3.6" fill="#c8ccf2" opacity="0.55"/><path d="M3 0.3 V2.4 M7 0.3 V2.4" stroke="#626ed4" stroke-width="1.4"/></svg>
<div class="t " style="left:306.00px;top:823.64px;font-size:13.51px;line-height:16.89px;color:#dfe2ea;font-weight:400;transform:scaleY(1.15);">Jan 01 - Jan 31</div>
<div class="t " style="left:634.32px;top:822.41px;font-size:17.78px;line-height:22.23px;color:#f4f5f8;font-weight:700;transform:translateX(-100%) scaleY(1.15);">$4230</div>
<svg class="a" style="left:0.00px;top:0.00px;pointer-events:none;" width="1920.00" height="1440.00" viewBox="0 0 800 600"><path d="M190.200 372.950 A35.25 35.25 0 1 1 180.366 442.050" fill="none" stroke="#626ed4" stroke-width="6.5"/><path d="M180.366 442.050 A35.25 35.25 0 0 1 158.792 392.197" fill="none" stroke="#02a499" stroke-width="6.5"/><path d="M158.792 392.197 A35.25 35.25 0 0 1 190.200 372.950" fill="none" stroke="#f8b425" stroke-width="6.5"/></svg>
<div class="a " style="left:283.80px;top:1113.84px;width:349.20px;height:1.08px;background:rgba(255,255,255,0.07);"></div>
<div class="a " style="left:283.80px;top:1159.92px;width:349.20px;height:1.08px;background:rgba(255,255,255,0.07);"></div>
<div class="a " style="left:283.80px;top:1205.76px;width:349.20px;height:1.08px;background:rgba(255,255,255,0.07);"></div>
<div class="a " style="left:295.20px;top:1130.16px;width:33.12px;height:15.84px;background:#626ed4;border-radius:3px;"></div>
<div class="t " style="left:311.76px;top:1132.07px;font-size:10px;line-height:12.50px;color:#fff;font-weight:700;transform:translateX(-50%) scaleY(1.15);">Desk</div>
<div class="t " style="left:396.72px;top:1129.21px;font-size:14.19px;line-height:17.74px;color:#a4a9ba;font-weight:400;transform:scaleY(1.15);">Desktop</div>
<div class="t " style="left:621.84px;top:1129.94px;font-size:13.03px;line-height:16.29px;color:#a4a9ba;font-weight:400;transform:translateX(-100%) scaleY(1.15);">54.5%</div>
<div class="a " style="left:295.20px;top:1176.24px;width:29.76px;height:15.84px;background:#02a499;border-radius:3px;"></div>
<div class="t " style="left:310.08px;top:1178.15px;font-size:10px;line-height:12.50px;color:#fff;font-weight:700;transform:translateX(-50%) scaleY(1.15);">Mob</div>
<div class="t " style="left:396.72px;top:1175.05px;font-size:14.58px;line-height:18.23px;color:#a4a9ba;font-weight:400;transform:scaleY(1.15);">Mobile</div>
<div class="t " style="left:621.84px;top:1176.02px;font-size:13.03px;line-height:16.29px;color:#a4a9ba;font-weight:400;transform:translateX(-100%) scaleY(1.15);">28.0%</div>
<div class="a " style="left:295.20px;top:1222.08px;width:26.40px;height:15.84px;background:#f8b425;border-radius:3px;"></div>
<div class="t " style="left:308.40px;top:1223.99px;font-size:10px;line-height:12.50px;color:#fff;font-weight:700;transform:translateX(-50%) scaleY(1.15);">Tab</div>
<div class="t " style="left:396.72px;top:1221.01px;font-size:14.39px;line-height:17.99px;color:#a4a9ba;font-weight:400;transform:scaleY(1.15);">Tablets</div>
<div class="t " style="left:621.84px;top:1221.86px;font-size:13.03px;line-height:16.29px;color:#a4a9ba;font-weight:400;transform:translateX(-100%) scaleY(1.15);">17.5%</div>
<div class="a card" style="left:678.00px;top:757.80px;width:528.96px;height:517.20px;"></div>
<div class="t " style="left:698.16px;top:779.17px;font-size:15.15px;line-height:18.94px;color:#e8eaf1;font-weight:700;transform:scaleY(1.08);">Activity</div>
<div class="a " style="left:712.92px;top:840.00px;width:1.20px;height:297.60px;background:rgba(255,255,255,0.10);"></div>
<div class="a " style="left:705.24px;top:831.72px;width:16.56px;height:16.56px;background:#02a499;border-radius:50%;"></div>
<div class="t " style="left:745.44px;top:833.44px;font-size:12.8px;line-height:16.00px;color:#e3e6ee;font-weight:400;transform:scaleY(1.15);-webkit-text-stroke:0.36px #e3e6ee;">JAN 22</div>
<div class="t " style="left:745.44px;top:854.50px;font-size:14.04px;line-height:17.55px;color:#d3d7e2;font-weight:400;transform:scaleY(1.15);">Responded to need “Volunteer Activities”</div>
<div class="a " style="left:705.24px;top:900.84px;width:16.56px;height:16.56px;background:#02a499;border-radius:50%;"></div>
<div class="t " style="left:745.44px;top:902.56px;font-size:12.8px;line-height:16.00px;color:#e3e6ee;font-weight:400;transform:scaleY(1.15);-webkit-text-stroke:0.36px #e3e6ee;">JAN 20</div>
<div class="t " style="left:745.44px;top:923.09px;font-size:14.12px;line-height:17.65px;color:#d3d7e2;font-weight:400;transform:scaleY(1.15);">At vero eos et accusamus et iusto odio dignissimos ducimus qui</div>
<div class="t " style="left:745.44px;top:943.99px;font-size:13.71px;line-height:17.14px;color:#d3d7e2;font-weight:400;transform:scaleY(1.15);">deleniti atque...<span style="color:#02a499">Read more</span></div>
<div class="a " style="left:705.24px;top:990.84px;width:16.56px;height:16.56px;background:#02a499;border-radius:50%;"></div>
<div class="t " style="left:745.44px;top:992.56px;font-size:12.8px;line-height:16.00px;color:#e3e6ee;font-weight:400;transform:scaleY(1.15);-webkit-text-stroke:0.36px #e3e6ee;">JAN 19</div>
<div class="t " style="left:745.44px;top:1012.73px;font-size:13.93px;line-height:17.41px;color:#d3d7e2;font-weight:400;transform:scaleY(1.15);">Joined the group “Boardsmanship Forum”</div>
<div class="a " style="left:705.24px;top:1059.72px;width:16.56px;height:16.56px;background:#02a499;border-radius:50%;"></div>
<div class="t " style="left:745.44px;top:1061.44px;font-size:12.8px;line-height:16.00px;color:#e3e6ee;font-weight:400;transform:scaleY(1.15);-webkit-text-stroke:0.36px #e3e6ee;">JAN 17</div>
<div class="t " style="left:745.44px;top:1082.61px;font-size:13.87px;line-height:17.34px;color:#d3d7e2;font-weight:400;transform:scaleY(1.15);">Responded to need “In-Kind Opportunity”</div>
<div class="a " style="left:705.24px;top:1129.32px;width:16.56px;height:16.56px;background:#02a499;border-radius:50%;"></div>
<div class="t " style="left:745.44px;top:1131.04px;font-size:12.8px;line-height:16.00px;color:#e3e6ee;font-weight:400;transform:scaleY(1.15);-webkit-text-stroke:0.36px #e3e6ee;">JAN 16</div>
<div class="t " style="left:745.44px;top:1152.13px;font-size:14.0px;line-height:17.50px;color:#d3d7e2;font-weight:400;transform:scaleY(1.15);">Sed ut perspiciatis unde omnis iste natus error sit rem.</div>
<div class="a " style="left:895.44px;top:1218.72px;width:92.16px;height:36.72px;background:#626ed4;border-radius:4px;"></div>
<div class="t " style="left:941.52px;top:1228.54px;font-size:13.85px;line-height:17.31px;color:#fff;font-weight:400;transform:translateX(-50%) scaleY(1.15);-webkit-text-stroke:0.39px #fff;">Load More</div>
<div class="a card" style="left:1230.00px;top:757.80px;width:321.00px;height:271.20px;"></div>
<svg class="a" style="left:1366.56px;top:805.92px;" width="48.00" height="48.00" viewBox="0 0 20 20"><circle cx="10" cy="10" r="8.6" fill="none" stroke="#02a499" stroke-width="1.8"/><path d="M5.7 10.3 L8.6 13.1 L14.2 7.3" fill="none" stroke="#02a499" stroke-width="1.8" stroke-linecap="round" stroke-linejoin="round"/></svg>
<div class="t " style="left:1390.08px;top:883.89px;font-size:15.79px;line-height:19.74px;color:#626ed4;font-weight:700;transform:translateX(-50%) scaleY(1.15);">Order Successful</div>
<div class="t " style="left:1390.56px;top:914.11px;font-size:13.91px;line-height:17.39px;color:#a4a9ba;font-weight:400;transform:translateX(-50%) scaleY(1.15);">Thanks you so much for your order.</div>
<div class="a " style="left:1344.96px;top:957.60px;width:91.20px;height:27.60px;background:#626ed4;border-radius:3px;"></div>
<div class="t " style="left:1390.56px;top:963.85px;font-size:12.27px;line-height:15.34px;color:#fff;font-weight:400;transform:translateX(-50%) scaleY(1.15);-webkit-text-stroke:0.61px #fff;">Check Status</div>
<div class="a " style="left:1575.00px;top:757.80px;width:321.00px;height:271.20px;background:#626ed4;border-radius:4px;"></div>
<div class="t " style="left:1735.44px;top:804.29px;font-size:15.66px;line-height:19.57px;color:#cfd3f4;font-weight:400;transform:translateX(-50%) scaleY(1.15);-webkit-text-stroke:0.44px #cfd3f4;">Top Product Sale</div>
<div class="t " style="left:1735.68px;top:846.97px;font-size:33.77px;line-height:42.21px;color:#ffffff;font-weight:700;transform:translateX(-50%) scaleY(1.03);">1452</div>
<div class="t " style="left:1735.20px;top:901.44px;font-size:13.83px;line-height:17.29px;color:#ffffff;font-weight:400;transform:translateX(-50%) scaleY(1.15);-webkit-text-stroke:0.69px #ffffff;">Computer</div>
<div class="t " style="left:1735.68px;top:941.85px;font-size:14.07px;line-height:17.59px;color:#c5caf2;font-weight:400;transform:translateX(-50%) scaleY(1.15);">At solmen va esser necessi far uniform</div>
<div class="t " style="left:1735.68px;top:966.27px;font-size:13.39px;line-height:16.74px;color:#c5caf2;font-weight:400;transform:translateX(-50%) scaleY(1.15);">myth... <b style="color:#fff">View more</b></div>
<div class="a card" style="left:1230.00px;top:1053.60px;width:666.00px;height:218.40px;"></div>
<div class="t " style="left:1249.68px;top:1076.06px;font-size:14.76px;line-height:18.45px;color:#e8eaf1;font-weight:700;transform:scaleY(1.08);">Client Reviews</div>
<div class="t " style="left:1249.68px;top:1119.83px;font-size:13.84px;line-height:17.30px;color:#a4a9ba;font-weight:400;transform:scaleY(1.15);">" Everyone realizes why a new common language would be desirable one could refuse to pay</div>
<div class="t " style="left:1249.68px;top:1144.01px;font-size:13.93px;line-height:17.41px;color:#a4a9ba;font-weight:400;transform:scaleY(1.15);">expensive translators it would be necessary. "</div>
<svg class="a" style="left:1252.32px;top:1206.00px;" width="45.12" height="45.12" viewBox="0 0 20 20"><defs><clipPath id="cb"><circle cx="10" cy="10" r="10"/></clipPath><filter id="fc" x="-20%" y="-20%" width="140%" height="140%"><feGaussianBlur stdDeviation="0.45"/></filter></defs><g clip-path="url(#cb)"><rect width="20" height="20" fill="#191d29"/><g filter="url(#fc)"><ellipse cx="11" cy="21" rx="8" ry="5.5" fill="#0b0b0d"/><rect x="10" y="12.5" width="3.4" height="4" fill="#b58c78"/><ellipse cx="11.3" cy="8.8" rx="3.6" ry="4.4" fill="#c9a18c"/><ellipse cx="11.6" cy="11.8" rx="3.1" ry="1.9" fill="#2a1e1a"/><ellipse cx="11.8" cy="5.2" rx="4.4" ry="2.3" fill="#141010"/></g></g></svg>
<div class="t " style="left:1309.68px;top:1218.24px;font-size:13.83px;line-height:17.29px;color:#eef0f6;font-weight:400;transform:scaleY(1.15);-webkit-text-stroke:0.39px #eef0f6;">James Athey</div>
<svg class="a" style="left:1859.04px;top:1217.52px;" width="15.36" height="11.04" viewBox="0 0 12 8"><path d="M1 4 H10.5 M7.2 0.8 L10.5 4 L7.2 7.2" fill="none" stroke="#626ed4" stroke-width="1.4"/></svg>
<div class="a card" style="left:264.00px;top:1300.56px;width:1080.00px;height:168.00px;"></div>
<div class="t " style="left:283.20px;top:1321.00px;font-size:15.29px;line-height:19.11px;color:#e8eaf1;font-weight:700;transform:scaleY(1.08);">Latest Trasaction</div>
<div class="a " style="left:283.20px;top:1363.20px;width:1040.16px;height:1.08px;background:rgba(255,255,255,0.07);"></div>
<div class="a " style="left:283.20px;top:1409.28px;width:1040.16px;height:1.08px;background:rgba(255,255,255,0.07);"></div>
<div class="t " style="left:296.40px;top:1377.61px;font-size:14.19px;line-height:17.74px;color:#c5cad8;font-weight:400;transform:scaleY(1.15);-webkit-text-stroke:0.40px #c5cad8;">(#) Id</div>
<div class="t " style="left:429.60px;top:1377.60px;font-size:14.21px;line-height:17.76px;color:#c5cad8;font-weight:400;transform:scaleY(1.15);-webkit-text-stroke:0.40px #c5cad8;">Name</div>
<div class="t " style="left:772.56px;top:1378.11px;font-size:13.4px;line-height:16.75px;color:#c5cad8;font-weight:400;transform:scaleY(1.15);-webkit-text-stroke:0.38px #c5cad8;">Date</div>
<div class="t " style="left:940.32px;top:1377.47px;font-size:14.41px;line-height:18.01px;color:#c5cad8;font-weight:400;transform:scaleY(1.15);-webkit-text-stroke:0.40px #c5cad8;">Amount</div>
<div class="t " style="left:1074.96px;top:1377.38px;font-size:14.56px;line-height:18.20px;color:#c5cad8;font-weight:400;transform:scaleY(1.15);-webkit-text-stroke:0.41px #c5cad8;">Status</div>
<svg class="a" style="left:432.72px;top:1422.48px;" width="40.80" height="40.80" viewBox="0 0 20 20"><defs><clipPath id="cc"><circle cx="10" cy="10" r="10"/></clipPath></defs><g clip-path="url(#cc)"><rect width="20" height="20" fill="#3a2a22"/><ellipse cx="10" cy="10" rx="4" ry="5" fill="#d9a98c"/><path d="M4 9 Q10 0 16 9 L16 5 Q10 -1 4 5 Z" fill="#3b2418"/></g></svg>
<div class="t " style="left:296.40px;top:1435.88px;font-size:13.5px;line-height:16.88px;color:#a4a9ba;font-weight:400;transform:scaleY(1.15);">#14256</div>
<div class="t " style="left:488.40px;top:1435.88px;font-size:13.5px;line-height:16.88px;color:#a4a9ba;font-weight:400;transform:scaleY(1.15);">Caroline</div>
<div class="t " style="left:772.56px;top:1435.88px;font-size:13.5px;line-height:16.88px;color:#a4a9ba;font-weight:400;transform:scaleY(1.15);">15/1/2018</div>
<div class="t " style="left:940.32px;top:1435.88px;font-size:13.5px;line-height:16.88px;color:#a4a9ba;font-weight:400;transform:scaleY(1.15);">$94</div>
<div class="a " style="left:1219.92px;top:1432.32px;width:37.92px;height:28.80px;background:#626ed4;border-radius:3px;"></div>
<div class="a card" style="left:1368.00px;top:1300.56px;width:528.00px;height:168.00px;"></div>
<div class="t " style="left:1387.44px;top:1322.28px;font-size:15.55px;line-height:19.44px;color:#e8eaf1;font-weight:700;transform:scaleY(1.08);">Chat</div>
<div class="a" style="left:1368.0px;top:1363.2px;width:528.0px;height:96.0px;overflow:hidden;"><div class="a" style="left:158.4px;top:-7.2px;width:287.0px;height:54.2px;background:#363d52;border-radius:8px;"></div><div class="t" style="left:427.7px;top:-0.7px;transform:translateX(-100%);font-size:12.5px;line-height:15px;color:#3b55e6;font-weight:700;">Smith</div><div class="t" style="left:176.6px;top:17.9px;font-size:11.8px;line-height:16px;color:#a4a9ba;transform:scaleY(1.15);">Hi, How are you? What about our next meeting?</div><svg class="a" style="left:471.6px;top:-11.3px" width="34.56" height="34.56" viewBox="0 0 20 20"><defs><clipPath id="cd"><circle cx="10" cy="10" r="10"/></clipPath></defs><g clip-path="url(#cd)"><rect width="20" height="20" fill="#16171c"/><ellipse cx="11.2" cy="16" rx="3" ry="4" fill="#b89080"/><ellipse cx="11" cy="7.6" rx="3.3" ry="4.2" fill="#caa596"/><ellipse cx="11.2" cy="10.6" rx="2.7" ry="1.6" fill="#2a2020"/><ellipse cx="11" cy="3" rx="4" ry="2" fill="#e0c8c0"/></g></svg><div class="t" style="left:487.9px;top:28.0px;transform:translateX(-50%) scaleY(1.15);font-size:13px;line-height:16px;color:#f4f5f8;font-weight:400;-webkit-text-stroke:0.4px #f4f5f8;">10:01</div><div class="a" style="left:73.2px;top:72.7px;width:163.2px;height:72.0px;background:#f5f6fa;border-radius:8px;"></div><div class="a" style="left:26.4px;top:72.0px;width:36.0px;height:36.0px;background:#2a2424;border-radius:50%;"></div></div>
</div></body></html>
